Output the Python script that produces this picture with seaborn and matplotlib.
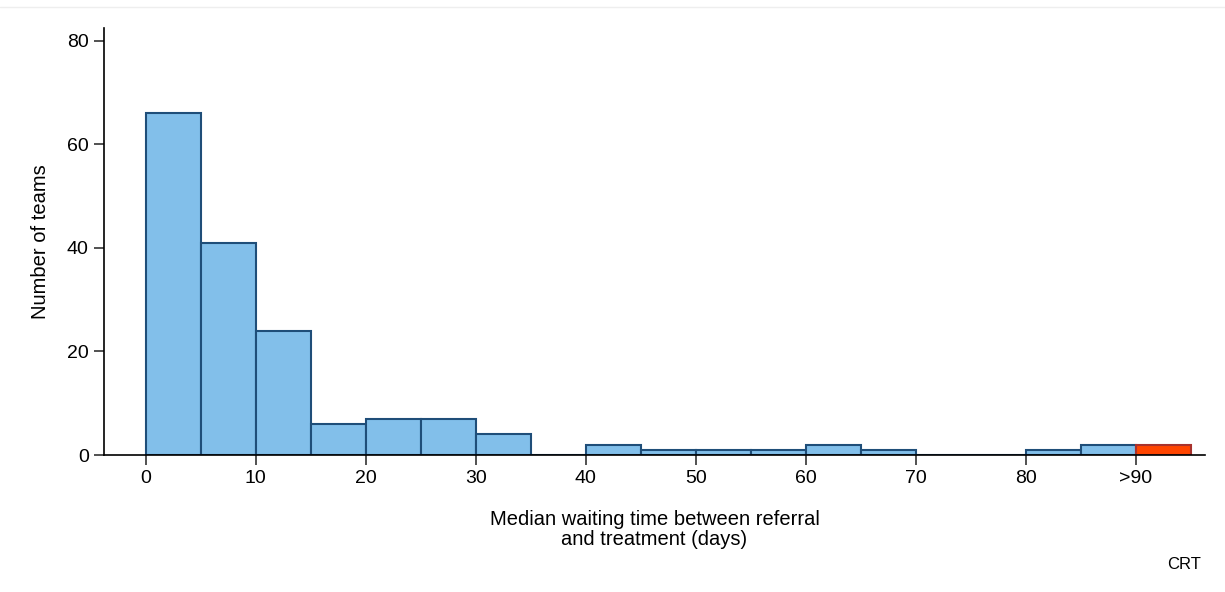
import numpy as np
import pandas as pd
import matplotlib.pyplot as plt
import seaborn as sns

sns.set_style("white")
plt.rcParams['font.family'] = ['Liberation Sans', 'DejaVu Sans']
plt.rcParams['text.color'] = 'black'
plt.rcParams['axes.labelcolor'] = 'black'
plt.rcParams['xtick.color'] = 'black'
plt.rcParams['ytick.color'] = 'black'

# --- Data: team counts per 5-day bin of median waiting time ---
bin_edges = [0, 5, 10, 15, 20, 25, 30, 35, 40, 45, 50, 55, 60, 65, 70, 75, 80, 85, 90, 95]
team_counts = [66, 41, 24, 6, 7, 7, 4, 0, 2, 1, 1, 1, 2, 1, 0, 0, 1, 2, 2]
x_ticks = [0, 10, 20, 30, 40, 50, 60, 70, 80, 90]
x_tick_labels = ["0", "10", "20", "30", "40", "50", "60", "70", "80", ">90"]
y_ticks = [0, 20, 40, 60, 80]

BLUE = "#82bfea"
BLUE_EDGE = "#1f4e79"
RED = "#ff4500"
RED_EDGE = "#a8322d"

centers = [(a + b) / 2 for a, b in zip(bin_edges[:-1], bin_edges[1:])]
df = pd.DataFrame({"wait": centers, "teams": team_counts})
df["group"] = ["over90" if c > 90 else "normal" for c in centers]

fig = plt.figure(figsize=(12.25, 5.92), dpi=100)
ax = fig.add_axes([0.0849, 0.2314, 0.8988, 0.7213])

sns.histplot(data=df[df["group"] == "normal"], x="wait", weights="teams",
             bins=bin_edges[:-1], color=BLUE, edgecolor=BLUE_EDGE,
             linewidth=1.5, alpha=1, ax=ax)
sns.histplot(data=df[df["group"] == "over90"], x="wait", weights="teams",
             bins=bin_edges[-2:], color=RED, edgecolor=RED_EDGE,
             linewidth=1.5, alpha=1, ax=ax)

ax.set_xlim(-3.8, 96.3)
ax.set_ylim(0, 82.5)
ax.set_xticks(x_ticks)
ax.set_xticklabels(x_tick_labels)
ax.set_yticks(y_ticks)
ax.tick_params(axis="both", direction="out", length=7, width=1.2,
               color="#333333", labelcolor="black", labelsize=14, pad=4,
               bottom=True, left=True)

for side in ["top", "right"]:
    ax.spines[side].set_visible(False)
for side in ["left", "bottom"]:
    ax.spines[side].set_color("black")
    ax.spines[side].set_linewidth(1.2)

ax.set_xlabel("Median waiting time between referral\nand treatment (days)",
              fontsize=14.5, labelpad=16, color="black", linespacing=1.1)
ax.set_ylabel("Number of teams", fontsize=14.5, labelpad=12, color="black")

fig.text(0.98, 0.034, "CRT", fontsize=12, ha="right", va="bottom", color="black")
# faint top border line
fig.add_artist(plt.Line2D([0, 1], [0.988, 0.988], color="#eeeeee", linewidth=1))

fig.savefig("out.png", dpi=100)
